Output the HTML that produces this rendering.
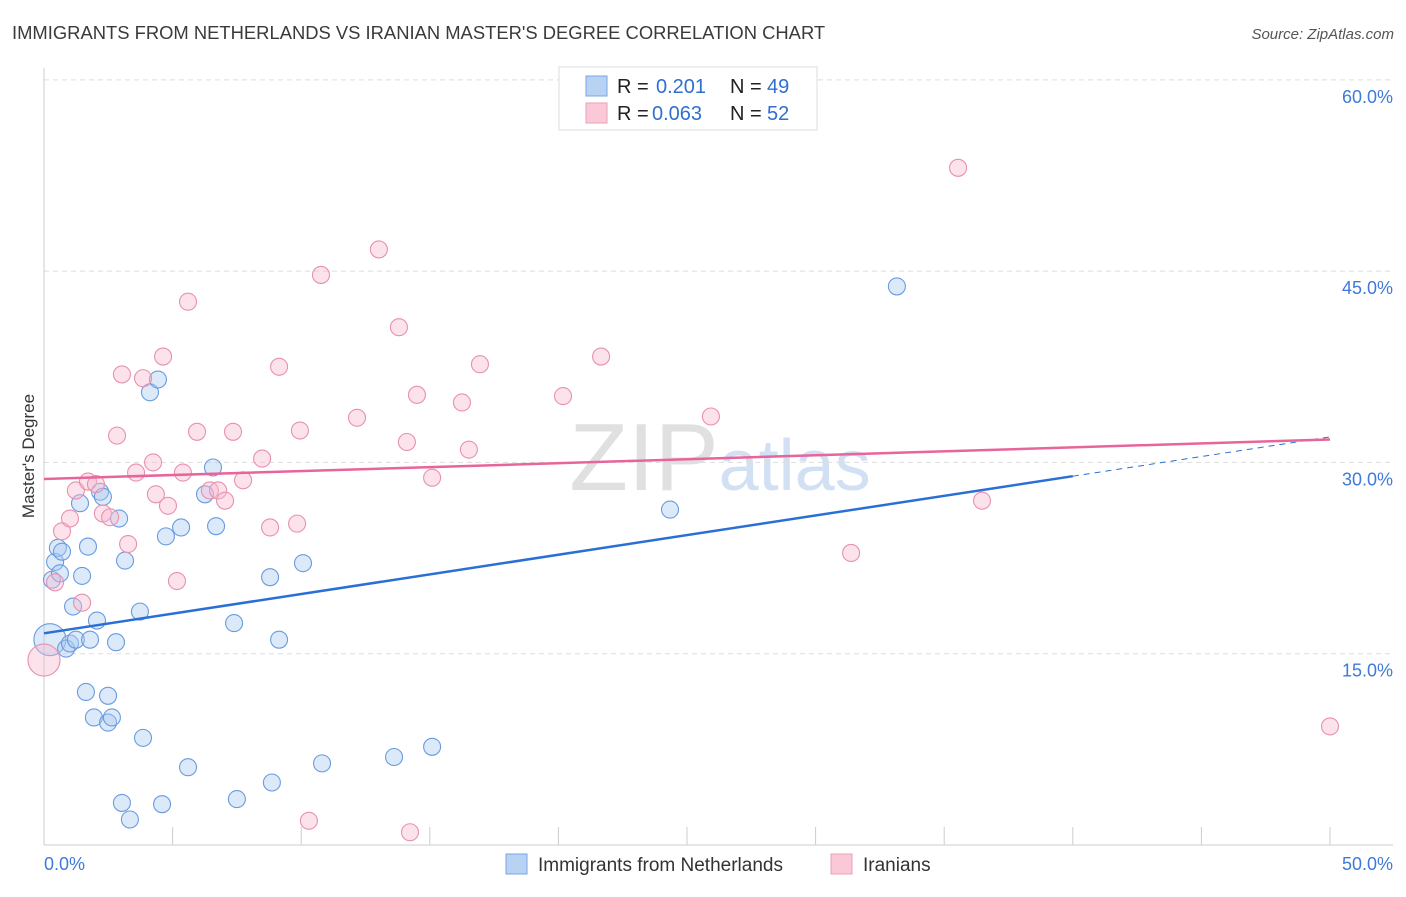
<!DOCTYPE html>
<html><head><meta charset="utf-8"><style>
body{margin:0;background:#fff;font-family:"Liberation Sans",sans-serif}
svg text{font-family:"Liberation Sans",sans-serif}
</style></head><body>
<svg id="chart" width="1406" height="892" xmlns="http://www.w3.org/2000/svg">
<text x="12" y="39" font-size="18.4" fill="#3a3a3a">IMMIGRANTS FROM NETHERLANDS VS IRANIAN MASTER'S DEGREE CORRELATION CHART</text>
<text x="1394" y="39" font-size="15" fill="#555" text-anchor="end" font-style="italic">Source: ZipAtlas.com</text>
<text x="720" y="490" font-size="96" text-anchor="middle" font-family="Liberation Serif"><tspan fill="#e0e0e0">ZIP</tspan><tspan fill="#d2e0f4" font-family="Liberation Sans" font-size="72">atlas</tspan></text>
<text transform="translate(34,456) rotate(-90)" font-size="17" fill="#333" text-anchor="middle">Master's Degree</text>
<g id="grid"></g><g id="axes"></g><g id="pts"></g><g id="lines"></g>
<g>
<rect x="559" y="67" width="258" height="63" fill="#fff" stroke="#ddd"/>
<rect x="586" y="76" width="21" height="20" fill="#b8d2f4" stroke="#7aa6e4"/>
<rect x="586" y="103" width="21" height="20" fill="#fac8d6" stroke="#eaa0b8"/>
<text x="617" y="93" font-size="20" fill="#222">R =</text>
<text x="656" y="93" font-size="20" fill="#2f6fd0">0.201</text>
<text x="730" y="93" font-size="20" fill="#222">N =</text>
<text x="767" y="93" font-size="20" fill="#2f6fd0">49</text>
<text x="617" y="120" font-size="20" fill="#222">R =</text>
<text x="652" y="120" font-size="20" fill="#2f6fd0">0.063</text>
<text x="730" y="120" font-size="20" fill="#222">N =</text>
<text x="767" y="120" font-size="20" fill="#2f6fd0">52</text>
</g>
<g>
<rect x="506" y="854" width="21" height="20" fill="#b8d2f4" stroke="#7aa6e4"/>
<text x="538" y="871" font-size="19" fill="#333">Immigrants from Netherlands</text>
<rect x="831" y="854" width="21" height="20" fill="#fac8d6" stroke="#eaa0b8"/>
<text x="863" y="871" font-size="19" fill="#333">Iranians</text>
</g>
</svg>
<script>
const yTicks=[15,30,45,60];
const blueX=[0.23,0.31,0.43,0.54,0.70,0.62,0.86,1.01,1.13,1.24,1.40,1.48,1.63,1.71,1.79,1.94,2.06,2.18,2.29,2.49,2.49,2.64,2.80,2.92,3.03,3.15,3.34,3.73,3.85,4.12,4.43,4.59,4.74,5.33,5.60,6.26,6.57,6.69,7.39,7.50,8.79,8.86,9.14,10.07,10.81,13.61,15.09,24.34,33.16];
const blueY=[16.1,20.8,22.2,23.3,23.0,21.3,15.4,15.8,18.7,16.1,26.8,21.1,12.0,23.4,16.1,10.0,17.6,27.7,27.3,11.7,9.6,10.0,15.9,25.6,3.3,22.3,2.0,18.3,8.4,35.5,36.5,3.2,24.2,24.9,6.1,27.5,29.6,25.0,17.4,3.6,21.0,4.9,16.1,22.1,6.4,6.9,7.7,26.3,43.8];
const pinkX=[0,0.43,0.70,1.01,1.24,1.48,1.71,2.02,2.29,2.57,2.84,3.03,3.27,3.58,3.85,4.24,4.35,4.63,4.82,5.17,5.40,5.60,5.95,6.45,6.77,7.04,7.35,7.74,8.48,8.79,9.14,9.84,9.95,10.30,10.77,12.17,13.02,13.80,14.11,14.23,14.50,15.09,16.25,16.52,16.95,20.18,21.66,25.93,31.38,35.54,36.47,50.0];
const pinkY=[14.5,20.6,24.6,25.6,27.8,19.0,28.5,28.3,26.0,25.7,32.1,36.9,23.6,29.2,36.6,30.0,27.5,38.3,26.6,20.7,29.2,42.6,32.4,27.8,27.8,27.0,32.4,28.6,30.3,24.9,37.5,25.2,32.5,1.9,44.7,33.5,46.7,40.6,31.6,1.0,35.3,28.8,34.7,31.0,37.7,35.2,38.3,33.6,22.9,53.1,27.0,9.3];
const blueLine=[16.6,32.0], blueSolidEnd=40;
const pinkLine=[28.7,31.8];
const X=v=>44+v*25.72, Y=v=>845-v*12.753;
const NS="http://www.w3.org/2000/svg";
function mk(par,tag,at){const e=document.createElementNS(NS,tag);for(const k in at)e.setAttribute(k,at[k]);document.getElementById(par).appendChild(e);return e;}
yTicks.forEach(t=>{
 const l=mk('grid','line',{x1:44,x2:1393,y1:Y(t),y2:Y(t),stroke:'#ddd','stroke-dasharray':'5,4'});
 
 
 const tx=mk('grid','text',{x:1393,y:Y(t)+23,'font-size':18,fill:'#3f7ad8','text-anchor':'end'});tx.textContent=t.toFixed(1)+'%';
 
 
});
const ax=mk('axes','line',{x1:44,x2:44,y1:68,y2:845,stroke:'#ccc'});


const bx=mk('axes','line',{x1:44,x2:1393,y1:845,y2:845,stroke:'#ccc'});


for(let i=0;i<=10;i++){const t=mk('axes','line',{x1:X(i*5),x2:X(i*5),y1:827,y2:845,stroke:'#ccc'});
 
 }
[[0,'0.0%','start',44],[50,'50.0%','end',1393]].forEach(d=>{const t=mk('axes','text',{x:d[3],y:870,'font-size':18,fill:'#3f7ad8','text-anchor':d[2]});t.textContent=d[1];
 
 });
function pts(xs,ys,fill,stroke,name){xs.forEach((x,i)=>{const big=(x<0.3&&(ys[i]<17));const c=mk('pts','circle',{cx:X(x),cy:Y(ys[i]),r:big?16:8.5,fill:fill,'fill-opacity':0.4,stroke:stroke,'stroke-width':1.1});
 
 });}
pts(blueX,blueY,'#a8c8f0','#6a9be0','netherlands-point');
pts(pinkX,pinkY,'#f8b8cc','#e890b0','iranian-point');
const bY=x=>blueLine[0]+(blueLine[1]-blueLine[0])*x/50;
const b1=mk('lines','line',{x1:X(0),y1:Y(bY(0)),x2:X(blueSolidEnd),y2:Y(bY(blueSolidEnd)),stroke:'#2a6fd6','stroke-width':2.5});


const b2=mk('lines','line',{x1:X(blueSolidEnd),y1:Y(bY(blueSolidEnd)),x2:X(50),y2:Y(bY(50)),stroke:'#2a6fd6','stroke-width':1,'stroke-dasharray':'6,5'});


const p1=mk('lines','line',{x1:X(0),y1:Y(pinkLine[0]),x2:X(50),y2:Y(pinkLine[1]),stroke:'#e8659a','stroke-width':2.5});


</script>
</body></html>
